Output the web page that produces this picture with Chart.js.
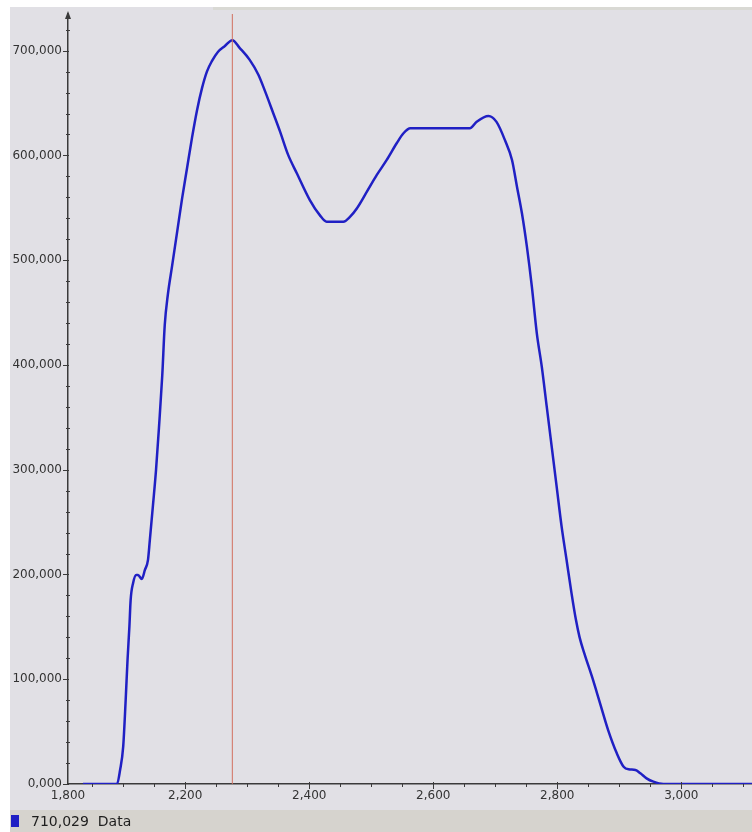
<!DOCTYPE html>
<html>
<head>
<meta charset="utf-8">
<title>Data</title>
<script src="https://cdn.jsdelivr.net/npm/chart.js@4.4.0/dist/chart.umd.min.js"></script>
<style>
    html, body { margin: 0; padding: 0; background: #ffffff; }
    #wrap { width: 752px; height: 832px; }
</style>
</head>
<body>
<div id="wrap"><canvas id="grafico" width="752" height="832"></canvas></div>
<script>
// curve
const xValues = [2035, 2090, 2095, 2100, 2104, 2107, 2110, 2112, 2116, 2121, 2124, 2130, 2135, 2140, 2143, 2148,
    2153, 2158, 2163, 2167, 2172, 2179, 2187, 2195, 2203, 2211, 2219, 2227, 2235, 2243, 2253, 2264, 2276,
    2288, 2304, 2318, 2329, 2342, 2353, 2366, 2380, 2401, 2417, 2428, 2455, 2466, 2477, 2493, 2509, 2525,
    2541, 2552, 2563, 2659, 2670, 2689, 2702, 2716, 2727, 2735, 2743, 2751, 2759, 2767, 2775, 2783, 2791,
    2799, 2807, 2815, 2823, 2830, 2836, 2844, 2856, 2869, 2882, 2896, 2907, 2915, 2926, 2934, 2944, 2955, 2971, 3114];
const yValues = [0, 0, 13400, 35600, 80200, 118400, 150200, 175600, 191900, 199500, 199500, 195700, 204300, 214000, 233000, 266000,
    300000, 343000, 390000, 438000, 467000, 495000, 527000, 559000, 588000, 617000, 643000, 664000, 680000, 690000, 699000, 704500, 710029,
    702500, 691200, 677000, 660900, 640300, 622700, 600500, 583000, 557400, 543000, 536800, 536800, 541600, 549600, 565400, 581400, 595700,
    611600, 621200, 626000, 626000, 632200, 637700, 632000, 614000, 595700, 570200, 544800, 512900, 474700, 430200, 398400, 360200, 322000,
    283800, 245600, 213800, 182000, 157000, 140000, 124000, 102400, 77000, 51500, 29300, 16500, 14000, 13400, 10200, 5400, 2200, 0, 0];

const xMajorTicks = [2011, 2200, 2400, 2600, 2800, 3000];
const xTickLabels = ['1,800', '2,200', '2,400', '2,600', '2,800', '3,000'];
const yMajorTicks = [0, 100000, 200000, 300000, 400000, 500000, 600000, 700000];
const yTickLabels = ['0,000', '100,000', '200,000', '300,000', '400,000', '500,000', '600,000', '700,000'];

const cursorX = 2276;
const cursorValue = 710029;
const seriesName = 'Data';

const X_MIN = 2011, X_MAX = 3114, Y_MAX = 735000;
const X_MINOR = 50, Y_MINOR = 20000;

const LINE_COLOR = '#2020c4';
const AXIS_COLOR = '#3a3a3a';

function minorTicks(min, max, step) {
    const out = [];
    for (let v = Math.ceil(min / step) * step; v <= max; v += step) out.push(v);
    return out;
}

// backgrounds: white frame, grey plot panel, beige legend strip
const fondoPlugin = {
    id: 'fondo',
    beforeDraw(chart) {
        const ctx = chart.ctx;
        ctx.save();
        ctx.fillStyle = '#ffffff';
        ctx.fillRect(0, 0, chart.width, chart.height);
        ctx.fillStyle = '#e1e0e5';
        ctx.fillRect(10, 7, chart.width - 10, chart.height - 29);
        ctx.fillStyle = '#d9d9d4';
        ctx.fillRect(213, 7, chart.width - 213, 3);
        ctx.fillStyle = '#d6d3ce';
        ctx.fillRect(10, chart.height - 22, chart.width - 10, 22);
        ctx.restore();
    }
};

// tick marks, axis arrow and the legend line
const ejesPlugin = {
    id: 'ejes',
    afterDraw(chart) {
        const ctx = chart.ctx;
        const { left, top, bottom } = chart.chartArea;
        const xs = chart.scales.x, ys = chart.scales.y;
        ctx.save();
        ctx.strokeStyle = AXIS_COLOR;
        ctx.lineWidth = 1;

        ys.ticks.forEach(t => {
            const py = Math.round(ys.getPixelForValue(t.value)) + 0.5;
            const major = yMajorTicks.includes(t.value);
            ctx.beginPath();
            ctx.moveTo(left - (major ? 5 : 2), py);
            ctx.lineTo(left + (major ? 1 : 2), py);
            ctx.stroke();
        });
        xs.ticks.forEach(t => {
            if (t.value === X_MIN) return;
            const px = Math.round(xs.getPixelForValue(t.value)) + 0.5;
            const major = xMajorTicks.includes(t.value);
            ctx.beginPath();
            ctx.moveTo(px, bottom - (major ? 2 : 0));
            ctx.lineTo(px, bottom + (major ? 5 : 3));
            ctx.stroke();
        });

        // arrow head on the value axis
        ctx.fillStyle = AXIS_COLOR;
        ctx.beginPath();
        ctx.moveTo(left, top - 3);
        ctx.lineTo(left - 3, top + 5);
        ctx.lineTo(left + 3, top + 5);
        ctx.closePath();
        ctx.fill();

        // legend strip
        const ly = chart.height - 11;
        ctx.fillStyle = LINE_COLOR;
        ctx.fillRect(11, ly - 6, 8, 12);
        ctx.fillStyle = '#1e1e1e';
        ctx.font = '14px "DejaVu Sans"';
        ctx.textBaseline = 'middle';
        ctx.fillText(cursorValue.toLocaleString('en-US') + '  ' + seriesName, 31, ly + 1);
        ctx.restore();
    }
};

function crearGrafico() {
    const ctx = document.getElementById('grafico');
    Chart.defaults.font.family = '"DejaVu Sans", sans-serif';
    Chart.defaults.font.size = 12;
    Chart.defaults.color = '#333333';

    const puntos = xValues.map((x, i) => ({ x: x, y: yValues[i] }));

    return new Chart(ctx, {
        type: 'line',
        data: {
            datasets: [
                {
                    label: 'cursor',
                    data: [{ x: cursorX, y: 0 }, { x: cursorX, y: Y_MAX }],
                    borderColor: '#d2705f',
                    borderWidth: 1,
                    pointRadius: 0
                },
                {
                    label: seriesName,
                    data: puntos,
                    borderColor: LINE_COLOR,
                    borderWidth: 2.5,
                    pointRadius: 0,
                    cubicInterpolationMode: 'monotone',
                    fill: false
                }
            ]
        },
        options: {
            responsive: false,
            animation: false,
            layout: { padding: { left: 10, top: 14, right: 0, bottom: 22 }, autoPadding: false },
            plugins: {
                legend: { display: false },
                tooltip: { enabled: false }
            },
            scales: {
                x: {
                    type: 'linear',
                    min: X_MIN,
                    max: X_MAX,
                    grid: { display: false, drawTicks: false },
                    border: { display: true, color: AXIS_COLOR, width: 1.5 },
                    ticks: {
                        autoSkip: false,
                        maxRotation: 0,
                        padding: 5,
                        color: '#333333',
                        callback: (value) => {
                            const i = xMajorTicks.indexOf(value);
                            return i >= 0 ? xTickLabels[i] : '';
                        }
                    },
                    afterBuildTicks: (scale) => {
                        const vals = [X_MIN].concat(minorTicks(X_MIN + 1, X_MAX, X_MINOR));
                        scale.ticks = vals.map(v => ({ value: v }));
                    },
                    afterFit: (scale) => { scale.height = 26; }
                },
                y: {
                    min: 0,
                    max: Y_MAX,
                    grid: { display: false, drawTicks: false },
                    border: { display: true, color: AXIS_COLOR, width: 1.5 },
                    ticks: {
                        autoSkip: false,
                        padding: 6,
                        color: '#333333',
                        callback: (value) => {
                            const i = yMajorTicks.indexOf(value);
                            return i >= 0 ? yTickLabels[i] : '';
                        }
                    },
                    afterBuildTicks: (scale) => {
                        scale.ticks = minorTicks(0, Y_MAX, Y_MINOR).map(v => ({ value: v }));
                    },
                    afterFit: (scale) => { scale.width = 58; }
                }
            }
        },
        plugins: [fondoPlugin, ejesPlugin]
    });
}

window.grafico = crearGrafico();
</script>
</body>
</html>
